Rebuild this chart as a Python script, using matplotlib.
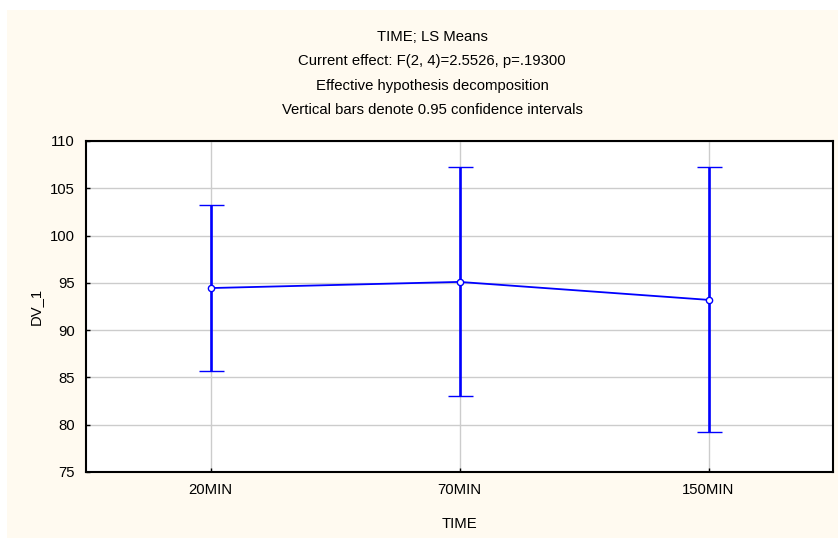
import matplotlib
matplotlib.use('Agg')
import matplotlib.pyplot as plt
import matplotlib.patches as patches

categories = ['20MIN', '70MIN', '150MIN']
means = [94.45, 95.1, 93.2]
lower = [85.7, 83.0, 79.2]
upper = [103.2, 107.2, 107.2]

title_lines = ['TIME; LS Means',
               'Current effect: F(2, 4)=2.5526, p=.19300',
               'Effective hypothesis decomposition',
               'Vertical bars denote 0.95 confidence intervals']

plt.rcParams['font.family'] = ['Liberation Sans', 'DejaVu Sans']
fs = 10.7

W, H = 838, 538
fig = plt.figure(figsize=(W / 100, H / 100), dpi=100)
fig.patch.set_facecolor('white')
# cream panel behind the plot
fig.add_artist(patches.Rectangle((7 / W, 0), (W - 7) / W, (H - 10) / H,
                                 transform=fig.transFigure, facecolor='#FFFAF0',
                                 edgecolor='none', zorder=0))

ax = fig.add_axes([86 / W, (H - 472) / H, (833 - 86) / W, (472 - 141) / H])
ax.set_facecolor('white')

x = list(range(1, len(categories) + 1))
err = [[m - l for m, l in zip(means, lower)], [u - m for m, u in zip(means, upper)]]
ax.errorbar(x, means, yerr=err, color='#0000FF', lw=1.3, elinewidth=1.9,
            capsize=9, capthick=1.9, marker='o', markersize=4.5,
            markerfacecolor='white', markeredgecolor='#0000FF', markeredgewidth=1,
            zorder=3)

ax.set_xlim(0.5, 3.5)
ax.set_ylim(75, 110)
ax.set_yticks(range(75, 111, 5))
ax.set_xticks(x)
ax.set_xticklabels(categories)
ax.grid(True, color='#CCCCCC', lw=1)
ax.set_axisbelow(True)
ax.tick_params(direction='in', length=3, width=1, labelsize=fs, colors='black', pad=8)
for s in ax.spines.values():
    s.set_linewidth(1.5)
    s.set_color('black')

ax.set_ylabel('DV_1', fontsize=fs)
ax.yaxis.set_label_coords(-0.058, 0.5)
ax.set_xlabel('TIME', fontsize=fs)
ax.xaxis.set_label_coords(0.5, -0.135)

for i, line in enumerate(title_lines):
    fig.text(432 / W, 1 - (37 + i * 24.5) / H, line, ha='center', va='center', fontsize=fs)

fig.savefig('out.png', dpi=100, facecolor=fig.get_facecolor())
